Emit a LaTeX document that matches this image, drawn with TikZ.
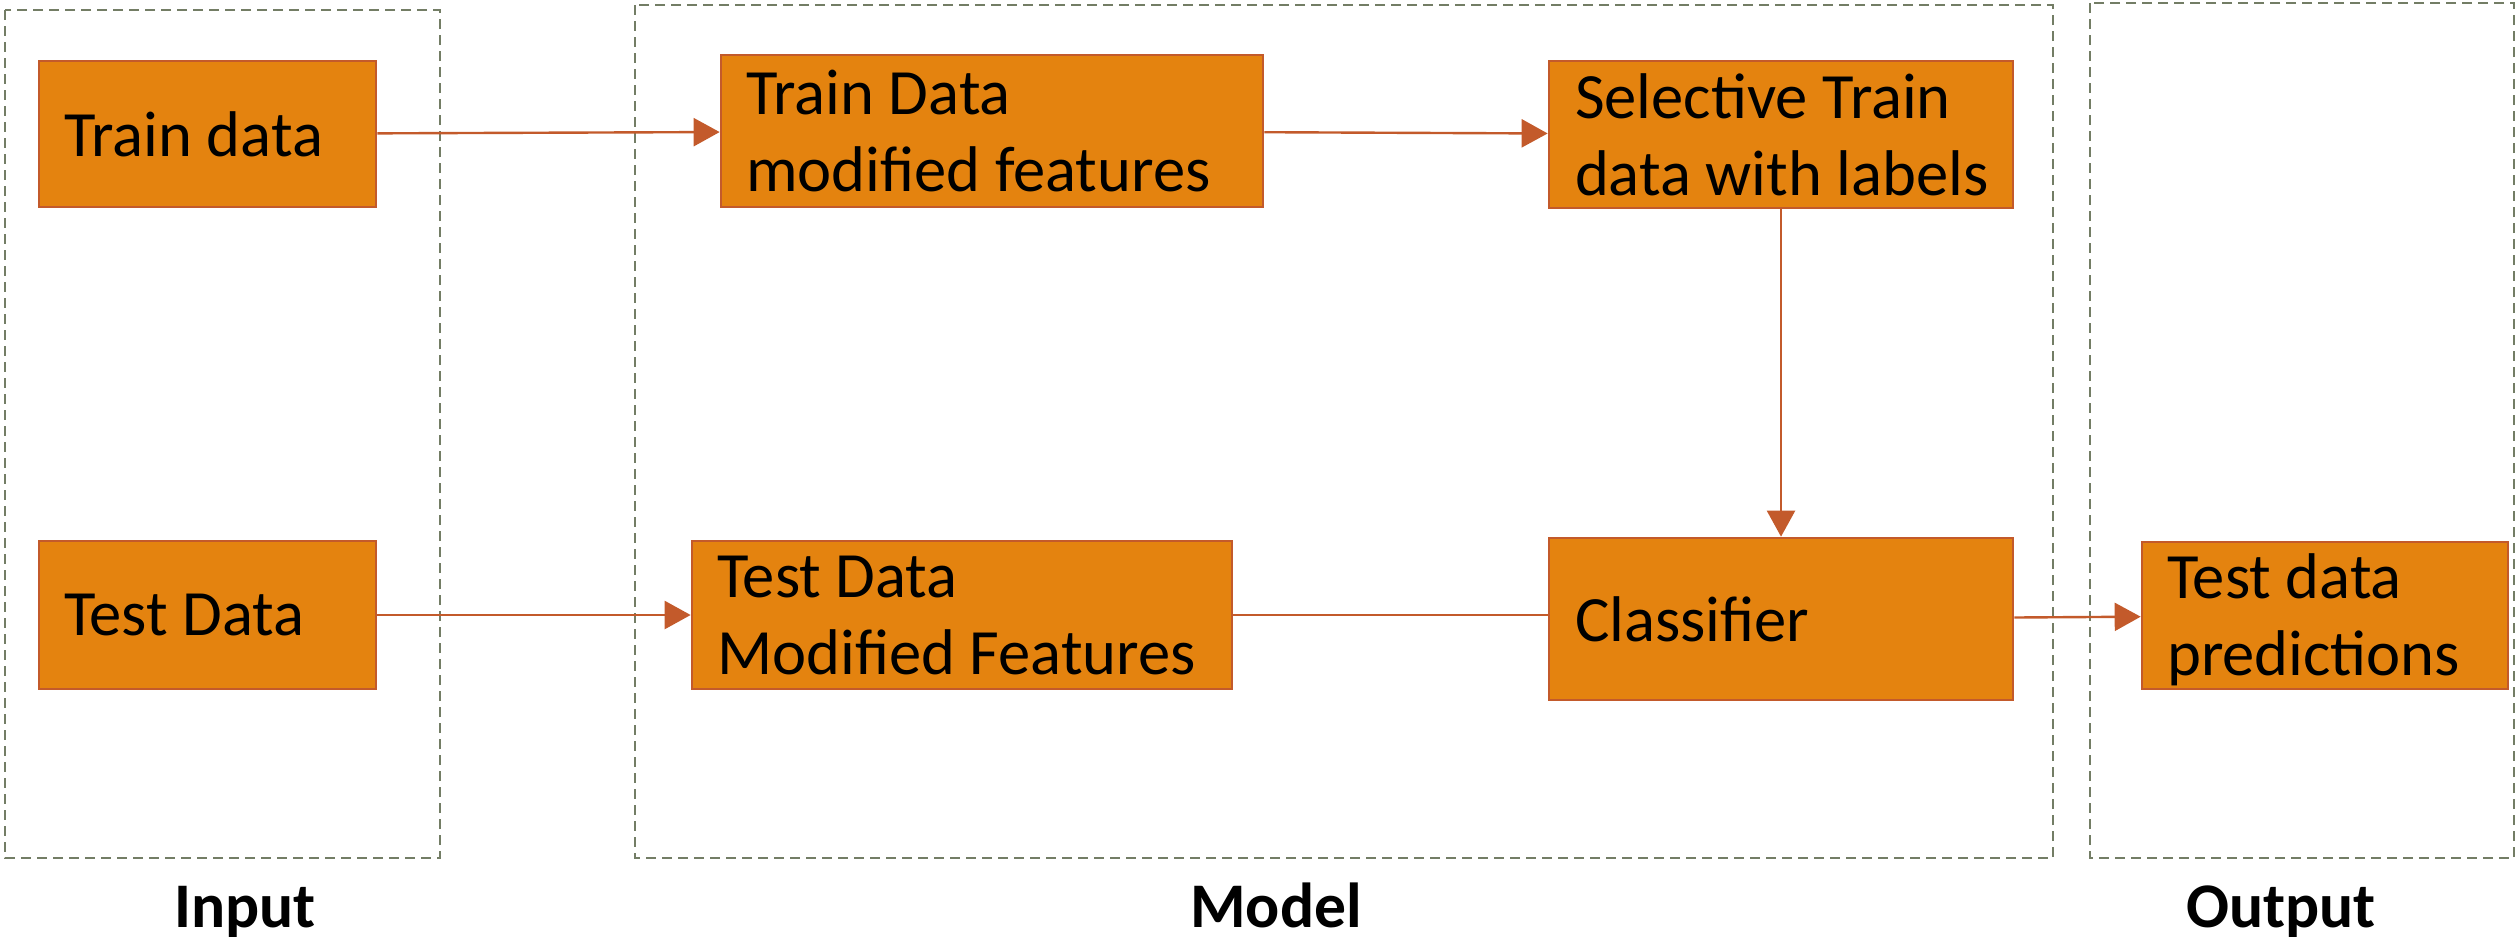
\documentclass[tikz,border=0pt]{standalone}
\usepackage{fontspec}
\setmainfont{Carlito}
\usetikzlibrary{arrows.meta}
\definecolor{boxfill}{HTML}{E4830F}
\definecolor{boxline}{HTML}{C35A2B}
\definecolor{groupline}{HTML}{737D65}
\begin{document}
\begin{tikzpicture}[x=0.5pt,y=-0.5pt,
  stage/.style={draw=boxline, fill=boxfill, line width=1.35pt, rectangle, inner sep=0pt},
  stagetext/.style={anchor=west, align=left, inner sep=0pt, font=\fontsize{32.3}{38.5}\selectfont},
  group/.style={draw=groupline, line width=1pt, dash pattern=on 5pt off 3pt},
  grouplabel/.style={anchor=base, inner sep=0pt, font=\fontsize{31.8}{36}\selectfont\bfseries},
  flow/.style={draw=boxline, line width=1.2pt, -{Triangle[length=13pt,width=14pt]}},
  link/.style={draw=boxline, line width=1.2pt}]
\useasboundingbox (0,0) rectangle (2519,938);

% dashed stage groups
\draw[group] (5,10) rectangle (440,858);
\draw[group] (635,5) rectangle (2053,858);
\draw[group] (2090,3) rectangle (2514,858);
\node[grouplabel] (lin) at (245,927) {Input};
\node[grouplabel] (lmod) at (1276,927) {Model};
\node[grouplabel] (lout) at (2281,927) {Output};

% processing boxes
\node[stage, minimum width=168.5pt, minimum height=73pt] (train) at (207.5,134) {};
\node[stage, minimum width=271pt, minimum height=76pt] (trainmod) at (992,131) {};
\node[stage, minimum width=232pt, minimum height=73.5pt] (select) at (1781,134.5) {};
\node[stage, minimum width=168.5pt, minimum height=74pt] (test) at (207.5,615) {};
\node[stage, minimum width=270pt, minimum height=74pt] (testmod) at (962,615) {};
\node[stage, minimum width=232pt, minimum height=81pt] (classifier) at (1781,619) {};
\node[stage, minimum width=183pt, minimum height=73.5pt] (pred) at (2325,615.5) {};

% box texts
\node[stagetext] (train-t) at ([xshift=13pt]train.west) {Train data};
\node[stagetext] (trainmod-t) at ([xshift=13pt]trainmod.west) {Train Data\\modified features};
\node[stagetext] (select-t) at ([xshift=13.5pt]select.west) {Selective Train\\data with labels};
\node[stagetext] (test-t) at ([xshift=13pt]test.west) {Test Data};
\node[stagetext] (testmod-t) at ([xshift=13pt]testmod.west) {Test Data\\Modified Features};
\node[stagetext] (classifier-t) at ([xshift=13.5pt]classifier.west) {Classifier};
\node[stagetext] (pred-t) at ([xshift=13pt,yshift=-2pt]pred.west) {Test data\\predictions};

% connectors
\draw[flow] (train) -- (trainmod);
\draw[flow] (trainmod) -- (select);
\draw[flow] (select) -- (classifier);
\draw[flow] (test) -- (testmod);
\draw[link] (testmod.east) -- (testmod.east -| classifier.west);
\draw[flow] (classifier) -- (pred);
\end{tikzpicture}
\end{document}
